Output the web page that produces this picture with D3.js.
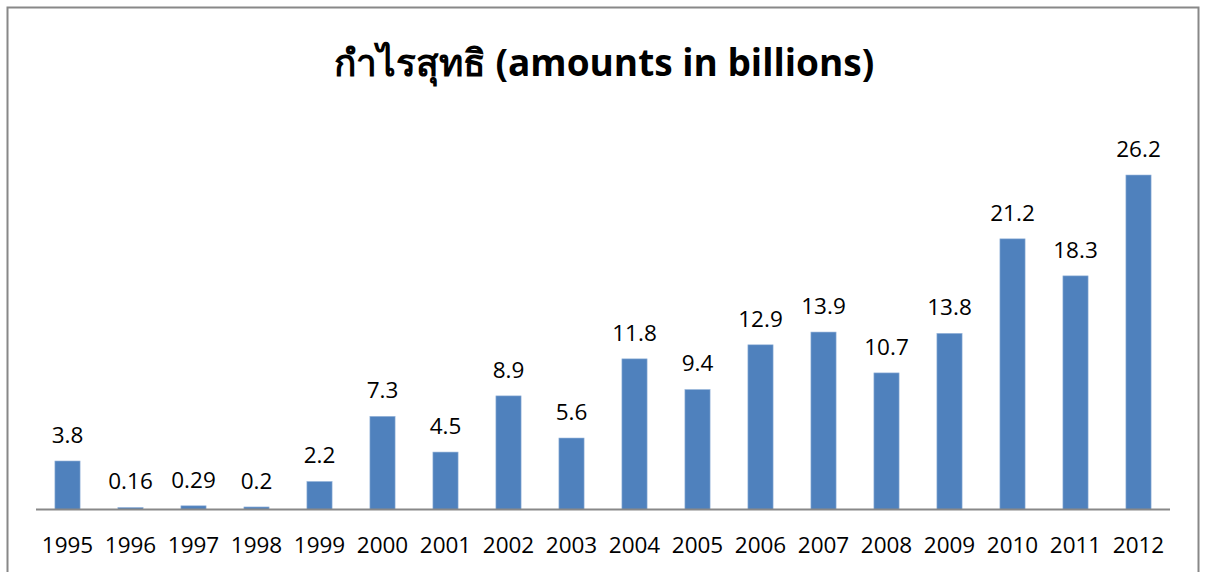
<!DOCTYPE html>
<html>
<head>
<meta charset="utf-8">
<script src="https://cdn.jsdelivr.net/npm/d3@7"></script>
<style>
  body { margin: 0; background: #fff; }
  svg { display: block; }
</style>
</head>
<body>
<div id="chart"></div>
<script>
(function(d3) {
  'use strict';

  var years = ['1995', '1996', '1997', '1998', '1999', '2000', '2001', '2002', '2003',
    '2004', '2005', '2006', '2007', '2008', '2009', '2010', '2011', '2012'];
  var profits = [3.8, 0.16, 0.29, 0.2, 2.2, 7.3, 4.5, 8.9, 5.6,
    11.8, 9.4, 12.9, 13.9, 10.7, 13.8, 21.2, 18.3, 26.2];
  var labels = ['3.8', '0.16', '0.29', '0.2', '2.2', '7.3', '4.5', '8.9', '5.6',
    '11.8', '9.4', '12.9', '13.9', '10.7', '13.8', '21.2', '18.3', '26.2'];
  var title = 'กำไรสุทธิ (amounts in billions)';

  var width = 1206;
  var height = 572;
  var font = "'Open Sans', 'Noto Sans', sans-serif";

  var svg = d3.select('#chart')
    .append('svg')
    .attr('width', width)
    .attr('height', height);

  // chart frame
  svg.append('rect')
    .attr('x', 7.5)
    .attr('y', 7.5)
    .attr('width', 1191)
    .attr('height', 600)
    .attr('fill', 'none')
    .attr('stroke', '#888')
    .attr('stroke-width', 2);

  var x = d3.scaleBand()
    .domain(years)
    .range([36, 1170])
    .paddingInner(0.6)
    .paddingOuter(0.3);

  var y = d3.scaleLinear()
    .domain([0, 26.2])
    .range([509.5, 175]);

  svg.selectAll('.bar')
    .data(profits)
    .enter()
    .append('rect')
    .attr('class', 'bar')
    .attr('x', function(d, i) { return x(years[i]); })
    .attr('y', function(d) { return y(d); })
    .attr('width', x.bandwidth())
    .attr('height', function(d) { return y(0) - y(d); })
    .attr('fill', '#4F81BD')
    .attr('stroke', '#9DB9DC')
    .attr('stroke-width', 0.6);

  svg.selectAll('.val')
    .data(profits)
    .enter()
    .append('text')
    .attr('class', 'val')
    .attr('x', function(d, i) { return x(years[i]) + x.bandwidth() / 2; })
    .attr('y', function(d) { return y(d) - 18; })
    .attr('text-anchor', 'middle')
    .style('font-family', font)
    .style('font-size', '22.5px')
    .style('fill', '#000')
    .text(function(d, i) { return labels[i]; });

  var xAxis = d3.axisBottom(x).tickSize(0).tickPadding(0);
  var gx = svg.append('g')
    .attr('transform', 'translate(0,' + y(0) + ')')
    .call(xAxis);
  gx.select('.domain')
    .attr('d', 'M36,0H1170')
    .attr('stroke', '#888')
    .attr('stroke-width', 2);
  gx.selectAll('.tick text')
    .attr('dy', null)
    .attr('y', 43)
    .style('font-family', font)
    .style('font-size', '22.5px')
    .style('fill', '#000');

  svg.append('text')
    .attr('x', 604)
    .attr('y', 76)
    .attr('text-anchor', 'middle')
    .style('font-family', font)
    .style('font-size', '37px')
    .style('font-weight', 'bold')
    .style('fill', '#000')
    .text(title);

})(window.d3);
</script>
</body>
</html>
